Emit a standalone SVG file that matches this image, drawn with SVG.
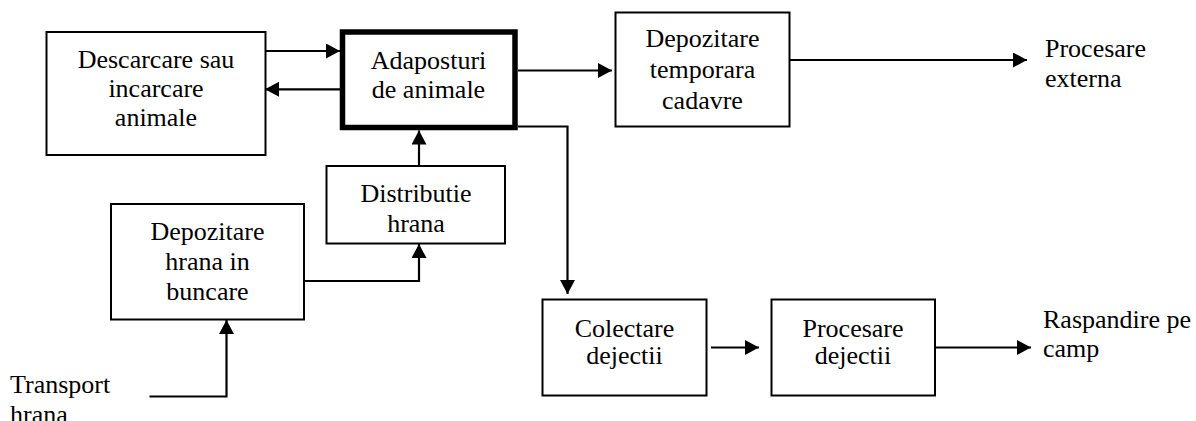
<svg xmlns="http://www.w3.org/2000/svg" width="1196" height="421" viewBox="0 0 1196 421">
<style>
.box{fill:#fff;stroke:#000;stroke-width:2}
.thick{fill:#fff;stroke:#000;stroke-width:5.5}
text{font-family:'Liberation Serif','DejaVu Serif','Times New Roman',serif;font-size:26px;fill:#000}
.t{text-anchor:middle}
.c{fill:none;stroke:#000;stroke-width:2.2}
</style>
<defs>
<marker id="ah" markerUnits="userSpaceOnUse" markerWidth="15" markerHeight="16" refX="14" refY="7.5" orient="auto">
<path d="M0,0 L14,7.5 L0,15 z" fill="#000"/>
</marker>
</defs>
<rect width="1196" height="421" fill="#fff"/>
<g id="connectors">
<line class="c" x1="266" y1="51" x2="340" y2="51" marker-end="url(#ah)"/>
<line class="c" x1="340" y1="89.3" x2="265" y2="89.3" marker-end="url(#ah)"/>
<line class="c" x1="518" y1="70.5" x2="612" y2="70.5" marker-end="url(#ah)"/>
<line class="c" x1="784" y1="60" x2="1027" y2="60" marker-end="url(#ah)"/>
<polyline class="c" points="518,126.5 567.5,126.5 567.5,294" marker-end="url(#ah)"/>
<line class="c" x1="419" y1="166" x2="419" y2="130.5" marker-end="url(#ah)"/>
<polyline class="c" points="304,281 419,281 419,244" marker-end="url(#ah)"/>
<polyline class="c" points="149.5,396.5 226.5,396.5 226.5,320" marker-end="url(#ah)"/>
<line class="c" x1="711" y1="347.5" x2="759" y2="347.5" marker-end="url(#ah)"/>
<line class="c" x1="935" y1="347.5" x2="1031" y2="347.5" marker-end="url(#ah)"/>
</g>
<g id="descarcare">
<rect class="box" x="46.5" y="32" width="219" height="123"/>
<text class="t" x="156" y="68">Descarcare sau</text>
<text class="t" x="156" y="97">incarcare</text>
<text class="t" x="156" y="126">animale</text>
</g>
<g id="adaposturi">
<rect class="thick" x="342.5" y="32" width="172.5" height="95.5"/>
<text class="t" x="428.5" y="69">Adaposturi</text>
<text class="t" x="428.5" y="98">de animale</text>
</g>
<g id="depozitare-temporara">
<rect class="box" x="615.5" y="12.5" width="174" height="114"/>
<text class="t" x="702.5" y="47">Depozitare</text>
<text class="t" x="702.5" y="78">temporara</text>
<text class="t" x="702.5" y="109">cadavre</text>
</g>
<g id="procesare-externa">
<text x="1045" y="57">Procesare</text>
<text x="1045" y="87">externa</text>
</g>
<g id="distributie">
<rect class="box" x="326.5" y="166" width="178.5" height="77.5"/>
<text class="t" x="416" y="202">Distributie</text>
<text class="t" x="416" y="232">hrana</text>
</g>
<g id="depozitare-hrana">
<rect class="box" x="111" y="204" width="193" height="115.5"/>
<text class="t" x="207.5" y="240">Depozitare</text>
<text class="t" x="207.5" y="270">hrana in</text>
<text class="t" x="207.5" y="300">buncare</text>
</g>
<g id="transport-hrana">
<text x="10" y="393">Transport</text>
<text x="10" y="423">hrana</text>
</g>
<g id="colectare">
<rect class="box" x="542.5" y="299.5" width="164" height="96"/>
<text class="t" x="624.5" y="337">Colectare</text>
<text class="t" x="624.5" y="364">dejectii</text>
</g>
<g id="procesare-dejectii">
<rect class="box" x="771.5" y="299.5" width="163.5" height="96"/>
<text class="t" x="853" y="337">Procesare</text>
<text class="t" x="853" y="364">dejectii</text>
</g>
<g id="raspandire">
<text x="1043" y="328">Raspandire pe</text>
<text x="1043" y="357">camp</text>
</g>
</svg>
